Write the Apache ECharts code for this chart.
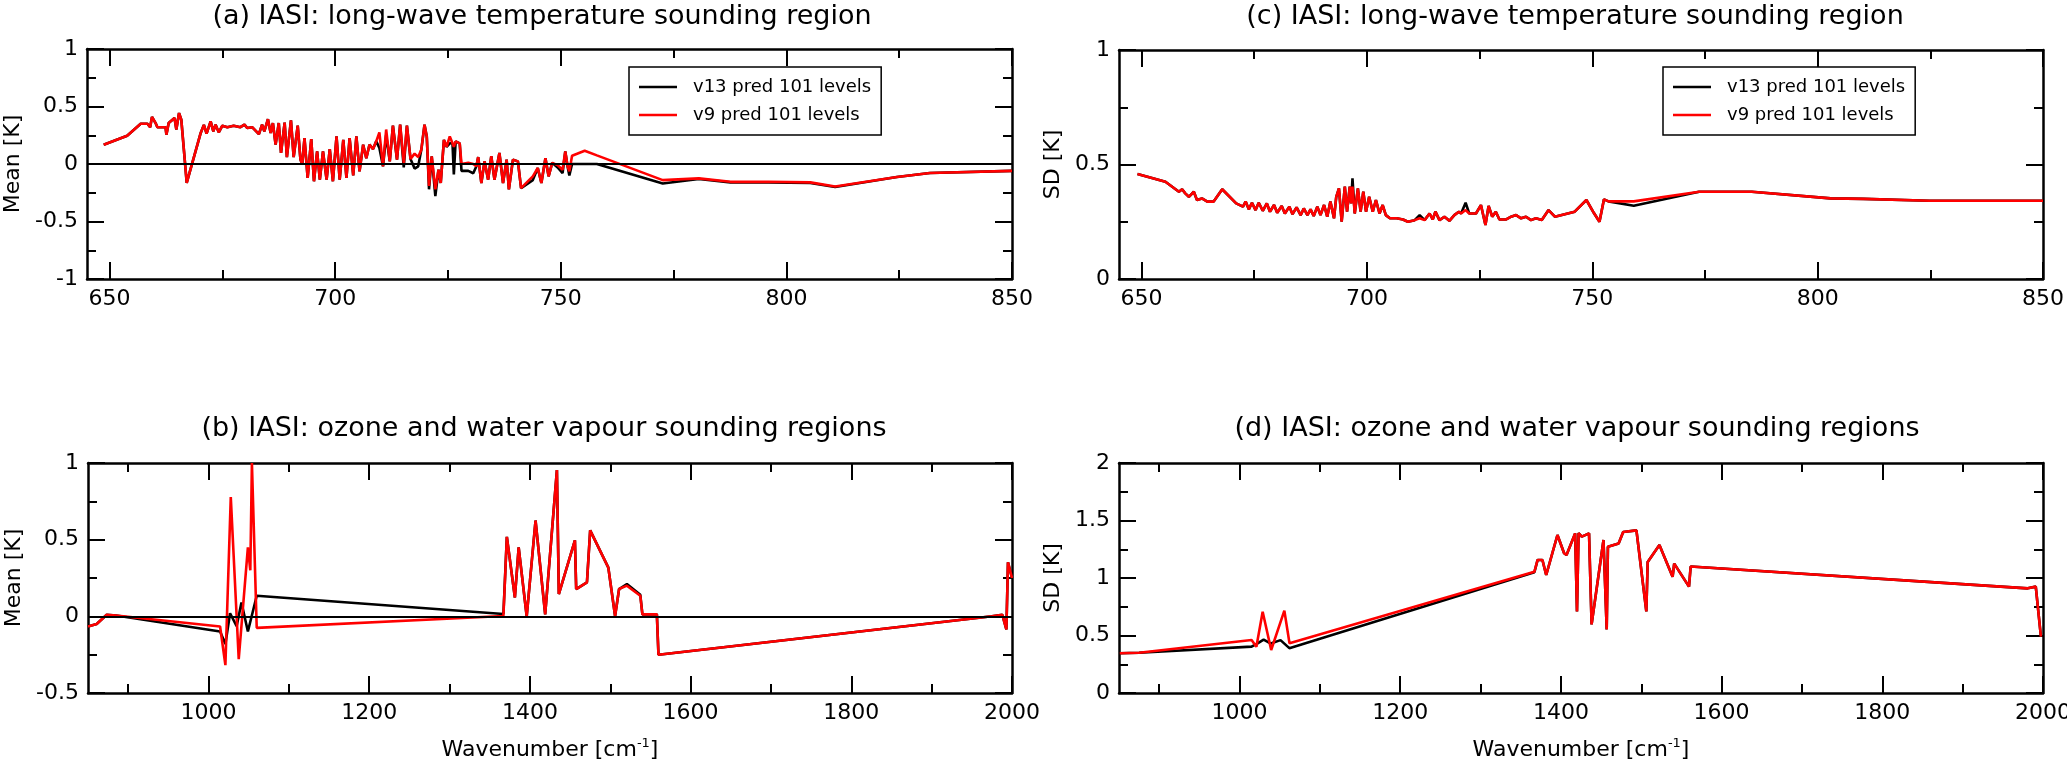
<!DOCTYPE html>
<html><head><meta charset="utf-8">
<script src="https://cdn.jsdelivr.net/npm/echarts@6/dist/echarts.min.js"></script>
<style>html,body{margin:0;padding:0;background:#fff}#c{width:2067px;height:765px}</style>
</head><body><div id="c"></div>
<script>
// ---------- Panel (a): mean, long-wave ----------
const waveA = [
 648.7,653.9,656.9,658.4,659.0,659.4,660.2,660.6,662.4,662.6,
 663.1,664.4,664.8,665.4,665.9,667.1,670.2,670.9,671.5,672.4,
 673.0,673.5,674.2,675.0,676.1,677.5,679.0,679.9,680.5,681.6,
 683.1,683.8,684.3,685.1,685.7,686.2,686.8,687.5,688.0,688.8,
 689.3,690.2,690.8,691.7,692.3,692.7,693.2,693.9,694.7,695.3,
 696.0,696.6,697.3,698.1,698.8,699.5,700.3,701.0,701.8,702.5,
 703.2,704.0,704.7,705.4,706.2,706.9,707.6,708.4,709.1,709.8,
 710.6,711.3,712.1,712.8,713.7,714.4,715.2,715.9,716.7,717.6,
 718.4,719.1,719.8,720.3,720.8,721.4,722.2,722.9,723.4,724.1,
 724.7,725.4,726.0,726.3,726.7,727.6,728.0,729.5,730.6,731.3,
 731.7,732.4,733.1,733.9,734.6,735.3,736.4,737.2,738.0,738.5,
 739.4,740.5,741.2,743.8,744.9,745.7,746.6,747.3,748.1,749.3,
 750.4,751.0,751.5,751.9,752.5,755.3,758.0,772.6,780.6,787.6,
 796.0,805.3,810.8,824.5,831.8,850.0];
const meanA_v9 = [
 0.168,0.246,0.35,0.35,0.32,0.41,0.356,0.32,0.32,0.255,
 0.356,0.40,0.30,0.443,0.385,-0.165,0.27,0.34,0.264,0.37,
 0.284,0.342,0.275,0.333,0.32,0.333,0.32,0.342,0.313,0.32,
 0.26,0.342,0.284,0.39,0.27,0.356,0.168,0.356,0.096,0.36,
 0.06,0.38,0.06,0.333,0.04,-0.005,0.226,-0.12,0.217,-0.15,
 0.11,-0.136,0.11,-0.136,0.13,-0.15,0.24,-0.136,0.21,-0.12,
 0.226,-0.10,0.24,-0.064,0.168,0.05,0.168,0.13,0.197,0.275,
 -0.02,0.30,0.023,0.333,0.038,0.342,0.01,0.333,0.043,0.09,
 0.06,0.125,0.342,0.24,-0.19,0.067,-0.22,-0.05,-0.165,0.21,
 0.15,0.24,0.18,0.15,0.197,0.18,0.0,0.01,0.0,-0.02,
 0.06,-0.165,0.023,-0.136,0.067,-0.136,0.096,-0.165,0.038,-0.22,
 0.038,0.023,-0.21,-0.107,-0.035,-0.165,0.05,-0.107,0.01,-0.01,
 -0.05,0.11,-0.02,-0.064,0.072,0.115,0.075,-0.14,-0.125,-0.155,
 -0.155,-0.16,-0.195,-0.113,-0.078,-0.06];
const meanA_v13 = [
 0.168,0.246,0.35,0.35,0.32,0.41,0.356,0.32,0.32,0.255,
 0.356,0.40,0.30,0.443,0.385,-0.165,0.27,0.34,0.264,0.37,
 0.284,0.342,0.275,0.333,0.32,0.333,0.32,0.342,0.313,0.32,
 0.26,0.342,0.284,0.39,0.27,0.356,0.168,0.356,0.096,0.36,
 0.06,0.38,0.06,0.333,0.04,-0.005,0.226,-0.12,0.217,-0.15,
 0.11,-0.136,0.11,-0.136,0.13,-0.15,0.24,-0.136,0.21,-0.12,
 0.226,-0.10,0.24,-0.064,0.168,0.05,0.168,0.13,0.197,0.14,
 -0.02,0.25,0.023,0.333,0.038,0.342,-0.03,0.333,0.043,-0.04,
 -0.02,0.125,0.342,0.24,-0.22,0.067,-0.28,-0.05,-0.165,0.21,
 0.15,0.18,0.18,-0.09,0.197,0.18,-0.06,-0.06,-0.08,-0.02,
 0.06,-0.165,0.023,-0.136,0.067,-0.136,0.096,-0.165,0.038,-0.22,
 0.038,0.023,-0.21,-0.14,-0.035,-0.165,0.05,-0.107,0.01,-0.03,
 -0.08,0.11,-0.02,-0.1,0.0,0.0,0.0,-0.17,-0.13,-0.16,
 -0.16,-0.165,-0.2,-0.113,-0.078,-0.06];

// ---------- Panel (b): mean, ozone & water vapour ----------
const waveB_v13 = [850,860.8,873.3,885,1014.4,1021,1026.8,1035,1041,1049,
 1060,1367,1371.3,1381.3,1386,1396,1407,1419,1433.6,1436,
 1456,1457.6,1471,1475,1497.6,1506,1511,1520.7,1537.4,1540,
 1558,1560,1975,1988,1993,1995,2000];
const meanB_v13 = [-0.066,-0.05,0.01,0.005,-0.099,-0.18,0.02,-0.064,0.09,-0.099,
 0.134,0.015,0.518,0.123,0.45,0.0,0.625,0.013,0.954,0.145,
 0.496,0.178,0.222,0.561,0.318,0.002,0.178,0.21,0.14,0.013,
 0.013,-0.25,0.0,0.01,-0.085,0.353,0.25];
const waveB_v9 = [850,860.8,873.3,885,1014.4,1021,1027.7,1037.6,1049,1052,
 1054,1060,1367,1371.3,1381.3,1386,1396,1407,1419,1433.6,
 1436,1456,1457.6,1471,1475,1497.6,1506,1511,1520.7,1537.4,
 1540,1558,1560,1975,1988,1993,1995,2000];
const meanB_v9 = [-0.066,-0.05,0.01,0.005,-0.066,-0.318,0.778,-0.28,0.45,0.3,
 1.0,-0.075,0.002,0.518,0.123,0.45,0.0,0.625,0.013,0.954,
 0.145,0.496,0.178,0.222,0.561,0.318,0.002,0.178,0.2,0.134,
 0.013,0.013,-0.25,0.0,0.01,-0.085,0.353,0.25];

// ---------- Panel (c): SD, long-wave ----------
const waveC = [
 649.1,655.3,658.3,659.0,659.7,660.5,661.6,662.3,663.4,664.6,
 666.0,667.9,671.0,672.5,673.1,673.8,674.5,675.3,676.0,676.9,
 677.8,678.5,679.4,680.1,681.1,681.8,682.8,683.5,684.4,685.3,
 686.0,686.8,687.5,688.2,689.0,689.7,690.5,691.2,691.9,692.7,
 693.2,693.8,694.4,695.1,695.6,696.2,696.5,696.8,697.3,698.0,698.6,
 699.2,699.8,700.5,701.3,702.0,702.8,703.5,704.2,705.1,706.6,
 708.0,709.1,710.6,711.7,712.8,713.9,714.6,715.2,716.1,717.2,
 718.3,719.4,720.4,720.9,721.9,722.7,724.2,725.3,726.3,727.0,
 727.8,728.6,729.4,730.9,732.0,733.1,734.2,735.3,736.4,737.5,
 738.8,740.3,741.7,746.1,748.7,750.4,751.6,752.6,753.6,759.2,
 773.7,785.4,802.9,810.2,824.8,850.0];
const sdC_v9 = [
 0.459,0.425,0.381,0.392,0.374,0.359,0.381,0.345,0.352,0.338,
 0.338,0.392,0.33,0.316,0.338,0.304,0.333,0.301,0.333,0.298,
 0.33,0.294,0.323,0.289,0.319,0.286,0.316,0.283,0.313,0.279,
 0.308,0.279,0.304,0.275,0.316,0.279,0.323,0.272,0.338,0.265,
 0.359,0.396,0.25,0.403,0.294,0.403,0.33,0.403,0.286,0.396,0.294,
 0.381,0.294,0.359,0.294,0.345,0.286,0.323,0.279,0.265,0.265,
 0.26,0.25,0.257,0.265,0.257,0.286,0.26,0.294,0.257,0.272,
 0.254,0.279,0.294,0.286,0.301,0.286,0.286,0.323,0.236,0.319,
 0.272,0.294,0.26,0.26,0.272,0.279,0.265,0.272,0.257,0.265,
 0.258,0.301,0.272,0.294,0.345,0.287,0.25,0.348,0.339,0.339,
 0.381,0.381,0.352,0.35,0.342,0.342];
const sdC_v13 = [
 0.459,0.425,0.381,0.392,0.374,0.359,0.381,0.345,0.352,0.338,
 0.338,0.392,0.33,0.316,0.338,0.304,0.333,0.301,0.333,0.298,
 0.33,0.294,0.323,0.289,0.319,0.286,0.316,0.283,0.313,0.279,
 0.308,0.279,0.304,0.275,0.316,0.279,0.323,0.272,0.338,0.265,
 0.359,0.396,0.25,0.403,0.294,0.403,0.33,0.44,0.286,0.396,0.294,
 0.381,0.294,0.359,0.294,0.345,0.286,0.323,0.279,0.265,0.265,
 0.26,0.25,0.257,0.279,0.257,0.286,0.26,0.294,0.257,0.272,
 0.254,0.279,0.294,0.286,0.333,0.286,0.286,0.323,0.236,0.319,
 0.272,0.294,0.26,0.26,0.272,0.279,0.265,0.272,0.257,0.265,
 0.258,0.301,0.272,0.294,0.345,0.287,0.25,0.348,0.339,0.32,
 0.381,0.381,0.352,0.35,0.342,0.342];

// ---------- Panel (d): SD, ozone & water vapour ----------
const waveD_v13 = [851,875,1015,1022,1030,1039,1051,1062,1367,1371,
 1377,1381.7,1395.7,1404,1407,1417.7,1420,1422,1426,1435,
 1438.2,1453,1457,1458.5,1471.8,1477.5,1494,1506.3,1508,1522.6,
 1539,1541,1559.4,1561.5,1981,1991,1997.4];
const sdD_v13 = [0.345,0.35,0.403,0.43,0.465,0.43,0.46,0.39,1.05,1.157,
 1.157,1.026,1.374,1.215,1.2,1.388,0.71,1.39,1.36,1.388,
 0.597,1.33,0.553,1.272,1.3,1.4,1.414,0.71,1.14,1.286,
 1.01,1.125,0.925,1.1,0.91,0.925,0.49];
const waveD_v9 = [851,875,1015,1021,1028.8,1039.4,1055.8,1062.2,1367,1371,
 1377,1381.7,1395.7,1404,1407,1417.7,1420,1422,1426,1435,
 1438.2,1453,1457,1458.5,1471.8,1477.5,1494,1506.3,1508,1522.6,
 1539,1541,1559.4,1561.5,1981,1991,1997.4];
const sdD_v9 = [0.345,0.35,0.461,0.403,0.707,0.374,0.716,0.432,1.055,1.157,
 1.157,1.026,1.374,1.215,1.2,1.388,0.71,1.39,1.36,1.388,
 0.597,1.33,0.553,1.272,1.3,1.4,1.414,0.71,1.14,1.286,
 1.01,1.125,0.925,1.1,0.91,0.925,0.49];

// ---------- Axis tick values & labels ----------
const ticksLW = [650,700,750,800,850];
const minorLW = [675,725,775,825];
const ticksOW = [1000,1200,1400,1600,1800,2000];
const minorOW = [900,1100,1300,1500,1700,1900];
const titles = ['(a) IASI: long-wave temperature sounding region',
 '(b) IASI: ozone and water vapour sounding regions',
 '(c) IASI: long-wave temperature sounding region',
 '(d) IASI: ozone and water vapour sounding regions'];
const NAME13 = 'v13 pred 101 levels', NAME9 = 'v9 pred 101 levels';

const FONT = 'DejaVu Sans';
const BLACK = '#000000', RED = '#ff0000';
const pairs = (xs, ys) => xs.map((x, i) => [x, ys[i]]);
const fmt = v => String(v);
const frame = {show: true, onZero: false, lineStyle: {color: BLACK, width: 2.5}};
const tickLS = {color: BLACK, width: 2};

function xAxesFor(g, min, max, majors, minors, withName) {
  const base = {type: 'value', gridIndex: g, min, max, splitLine: {show: false}};
  const main = {...base, position: 'bottom', axisLine: frame,
    axisTick: {show: true, inside: true, length: 17, customValues: majors, lineStyle: tickLS},
    axisLabel: {show: true, customValues: majors, formatter: fmt, color: BLACK, fontSize: 22, fontFamily: FONT, margin: 9}};
  if (withName) {
    main.name = '{n|Wavenumber [cm}{s|-1}{n|]}';
    main.nameLocation = 'middle';
    main.nameGap = 44;
    main.nameTextStyle = {rich: {
      n: {fontSize: 22, fontFamily: FONT, color: BLACK, lineHeight: 26},
      s: {fontSize: 13, fontFamily: FONT, color: BLACK, verticalAlign: 'top', lineHeight: 26}}};
  }
  return [
    main,
    {...base, position: 'bottom', axisLine: {show: false, onZero: false},
      axisTick: {show: true, inside: true, length: 9, customValues: minors, lineStyle: tickLS}, axisLabel: {show: false}},
    {...base, position: 'top', axisLine: frame,
      axisTick: {show: true, inside: true, length: 17, customValues: majors, lineStyle: tickLS}, axisLabel: {show: false}},
    {...base, position: 'top', axisLine: {show: false, onZero: false},
      axisTick: {show: true, inside: true, length: 9, customValues: minors, lineStyle: tickLS}, axisLabel: {show: false}}
  ];
}
function yAxesFor(g, min, max, name, gap) {
  const base = {type: 'value', gridIndex: g, min, max, interval: 0.5, splitLine: {show: false},
    axisLine: frame, axisTick: {show: true, inside: true, length: 17, lineStyle: tickLS},
    minorTick: {show: true, splitNumber: 2, length: 9, lineStyle: tickLS}};
  return [
    {...base, position: 'left',
      axisLabel: {color: BLACK, fontSize: 22, fontFamily: FONT, margin: 9, formatter: fmt},
      name, nameLocation: 'middle', nameGap: gap,
      nameTextStyle: {fontSize: 22, fontFamily: FONT, color: BLACK}},
    {...base, position: 'right', axisLabel: {show: false}}
  ];
}

function series(name, color, g, xs, ys, zero) {
  const s = {type: 'line', name, xAxisIndex: 4 * g, yAxisIndex: 2 * g,
    data: pairs(xs, ys), symbol: 'none', showSymbol: false, animation: false,
    lineStyle: {color, width: 2.6}, itemStyle: {color}, emphasis: {disabled: true},
    z: color === RED ? 4 : 3};
  if (zero) s.markLine = {silent: true, symbol: 'none', animation: false, label: {show: false},
    lineStyle: {color: BLACK, width: 2.2, type: 'solid'}, data: [{yAxis: 0}]};
  return s;
}

const LINE_ICON = 'path://M0,0L38,0L38,2.6L0,2.6Z';
function legendAt(left) {
  return {left, top: 67, orient: 'vertical',
    data: [{name: NAME13, icon: LINE_ICON, itemStyle: {color: BLACK}},
           {name: NAME9, icon: LINE_ICON, itemStyle: {color: RED}}],
    padding: [11, 10, 11, 10], itemGap: 10, itemWidth: 38, itemHeight: 18,
    borderColor: BLACK, borderWidth: 1.5, backgroundColor: '#fff',
    textStyle: {fontSize: 18, fontFamily: FONT, color: BLACK, padding: [0, 0, 0, 11]},
    selectedMode: false};
}

const titleText = (text, x, y) => ({type: 'text', x, y,
  style: {text, fill: BLACK, font: '27px "DejaVu Sans"', textAlign: 'center', textVerticalAlign: 'middle'}});

const option = {
  backgroundColor: '#ffffff',
  animation: false,
  grid: [
    {left: 87, top: 49, width: 925, height: 230, outerBoundsMode: 'none'},
    {left: 88, top: 463, width: 924, height: 230, outerBoundsMode: 'none'},
    {left: 1119, top: 50, width: 924, height: 229, outerBoundsMode: 'none'},
    {left: 1119, top: 463, width: 924, height: 230, outerBoundsMode: 'none'}
  ],
  xAxis: [
    ...xAxesFor(0, 645, 850, ticksLW, minorLW, false),
    ...xAxesFor(1, 850, 2000, ticksOW, minorOW, true),
    ...xAxesFor(2, 645, 850, ticksLW, minorLW, false),
    ...xAxesFor(3, 850, 2000, ticksOW, minorOW, true)
  ],
  yAxis: [
    ...yAxesFor(0, -1, 1, 'Mean [K]', 63),
    ...yAxesFor(1, -0.5, 1, 'Mean [K]', 63),
    ...yAxesFor(2, 0, 1, 'SD [K]', 55),
    ...yAxesFor(3, 0, 2, 'SD [K]', 55)
  ],
  legend: [legendAt(629), legendAt(1663)],
  graphic: [
    titleText(titles[0], 542, 17),
    titleText(titles[1], 544, 429),
    titleText(titles[2], 1575, 17),
    titleText(titles[3], 1577, 429)
  ],
  series: [
    series(NAME13, BLACK, 0, waveA, meanA_v13, true),
    series(NAME9, RED, 0, waveA, meanA_v9, false),
    series(NAME13, BLACK, 1, waveB_v13, meanB_v13, true),
    series(NAME9, RED, 1, waveB_v9, meanB_v9, false),
    series(NAME13, BLACK, 2, waveC, sdC_v13, false),
    series(NAME9, RED, 2, waveC, sdC_v9, false),
    series(NAME13, BLACK, 3, waveD_v13, sdD_v13, false),
    series(NAME9, RED, 3, waveD_v9, sdD_v9, false)
  ]
};
const chart = echarts.init(document.getElementById('c'), null, {renderer: 'canvas'});
chart.setOption(option);
</script>
</body></html>
